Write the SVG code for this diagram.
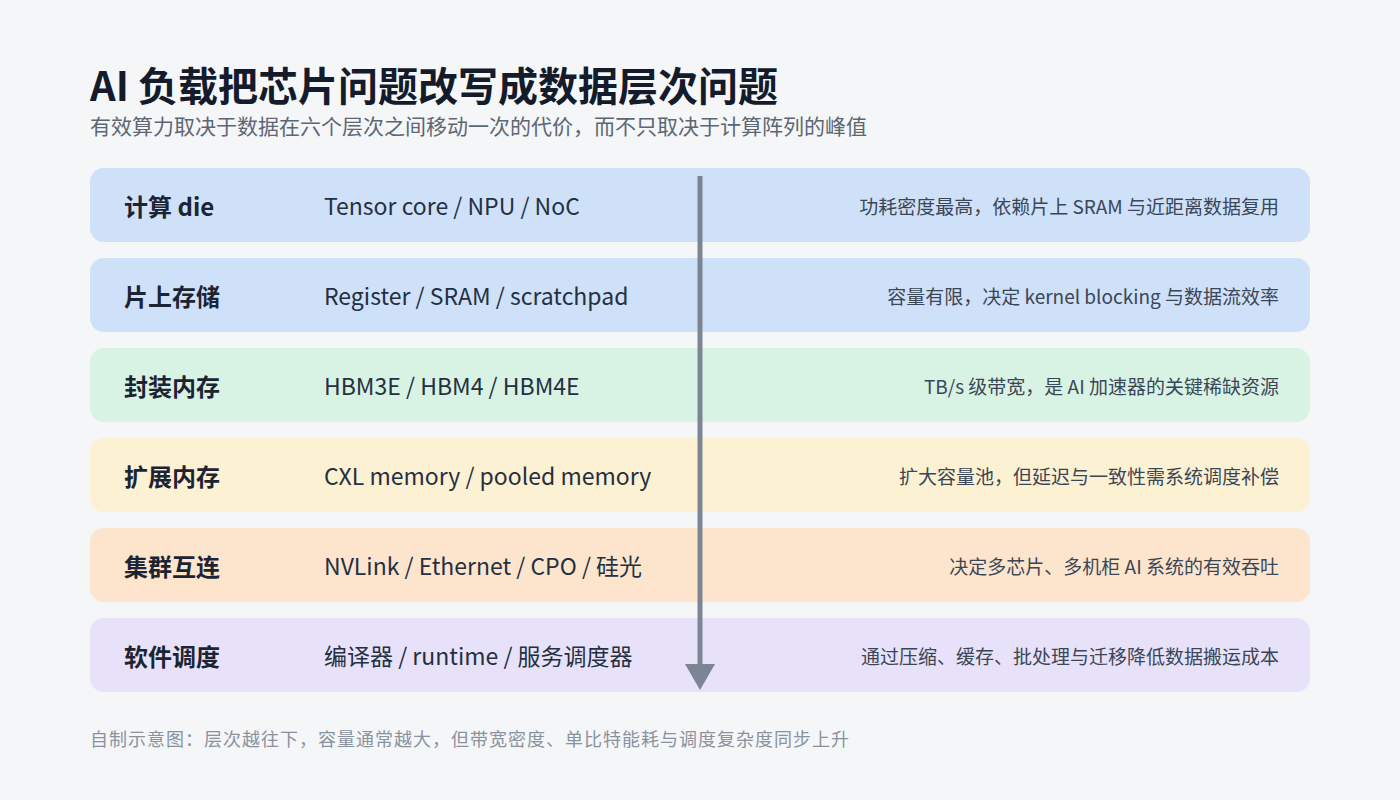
<svg xmlns="http://www.w3.org/2000/svg" width="1400" height="800" viewBox="0 0 1400 800">
<style>
text{font-family:"Noto Sans CJK SC","Noto Sans",sans-serif;}
.title{font-size:40px;font-weight:700;fill:#141b2b;}
.sub{font-size:21px;fill:#5d6673;}
.lab{font-size:24px;font-weight:700;fill:#1c2433;}
.mid{font-size:23px;fill:#243042;}
.rt{font-size:19px;fill:#3b4656;text-anchor:end;}
.foot{font-size:18px;fill:#8a929d;letter-spacing:1px;}
</style>
<rect width="1400" height="800" fill="#f4f6f8"/>
<text class="title" x="90" y="101">AI 负载把芯片问题改写成数据层次问题</text>
<text class="sub" x="90" y="134">有效算力取决于数据在六个层次之间移动一次的代价，而不只取决于计算阵列的峰值</text>
<g id="row1"><rect x="90" y="168" width="1220" height="74" rx="14" fill="#cfe1f9"/><text class="lab" x="124" y="216">计算 die</text><text class="mid" x="324" y="215">Tensor core / NPU / NoC</text><text class="rt" x="1279" y="214">功耗密度最高，依赖片上 SRAM 与近距离数据复用</text></g>
<g id="row2"><rect x="90" y="258" width="1220" height="74" rx="14" fill="#cfe1f9"/><text class="lab" x="124" y="306">片上存储</text><text class="mid" x="324" y="305">Register / SRAM / scratchpad</text><text class="rt" x="1279" y="304">容量有限，决定 kernel blocking 与数据流效率</text></g>
<g id="row3"><rect x="90" y="348" width="1220" height="74" rx="14" fill="#d8f3e4"/><text class="lab" x="124" y="396">封装内存</text><text class="mid" x="324" y="395">HBM3E / HBM4 / HBM4E</text><text class="rt" x="1279" y="394">TB/s 级带宽，是 AI 加速器的关键稀缺资源</text></g>
<g id="row4"><rect x="90" y="438" width="1220" height="74" rx="14" fill="#fdf1d3"/><text class="lab" x="124" y="486">扩展内存</text><text class="mid" x="324" y="485">CXL memory / pooled memory</text><text class="rt" x="1279" y="484">扩大容量池，但延迟与一致性需系统调度补偿</text></g>
<g id="row5"><rect x="90" y="528" width="1220" height="74" rx="14" fill="#fde5cd"/><text class="lab" x="124" y="576">集群互连</text><text class="mid" x="324" y="575">NVLink / Ethernet / CPO / 硅光</text><text class="rt" x="1279" y="574">决定多芯片、多机柜 AI 系统的有效吞吐</text></g>
<g id="row6"><rect x="90" y="618" width="1220" height="74" rx="14" fill="#e7e2f9"/><text class="lab" x="124" y="666">软件调度</text><text class="mid" x="324" y="665">编译器 / runtime / 服务调度器</text><text class="rt" x="1279" y="664">通过压缩、缓存、批处理与迁移降低数据搬运成本</text></g>
<g id="connectors">
<line x1="700" y1="176" x2="700" y2="666" stroke="#7d8594" stroke-width="5"/>
<polygon points="685,664 715,664 700,690" fill="#7d8594"/>
</g>
<text class="foot" x="90" y="746">自制示意图：层次越往下，容量通常越大，但带宽密度、单比特能耗与调度复杂度同步上升</text>
</svg>
